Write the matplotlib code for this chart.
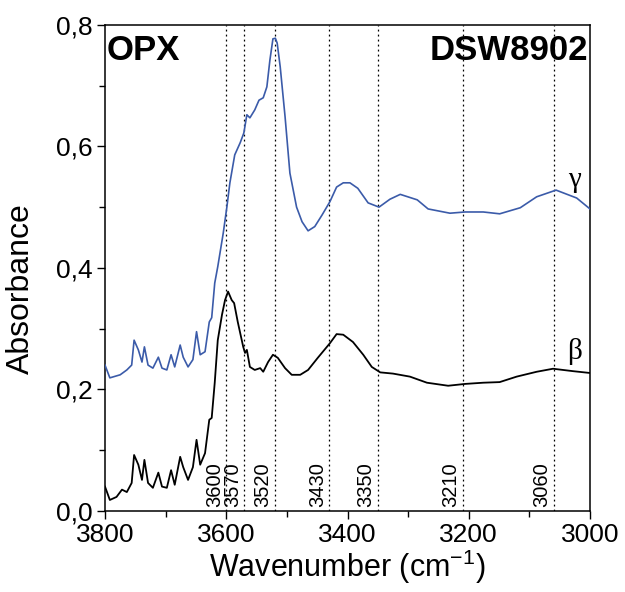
import matplotlib
matplotlib.use('Agg')
import matplotlib.pyplot as plt
from matplotlib.ticker import MultipleLocator

plt.rcParams['font.family'] = ['Liberation Sans', 'DejaVu Sans']

# gamma spectrum (blue)
gamma_x = [3800, 3792, 3775, 3764, 3756, 3752, 3745, 3739, 3735, 3729, 3721, 3712, 3706,
           3698, 3691, 3685, 3676, 3671, 3663, 3655, 3649, 3643, 3635, 3628, 3624, 3619,
           3614, 3605, 3599, 3594, 3586, 3577, 3571, 3566, 3561, 3553, 3546, 3539, 3533,
           3528, 3523, 3519, 3516, 3511, 3503, 3495, 3484, 3475, 3465, 3454, 3442, 3429,
           3418, 3407, 3396, 3383, 3366, 3348, 3330, 3313, 3285, 3267, 3231, 3206, 3176,
           3149, 3115, 3088, 3056, 3022, 3000]
gamma_y = [0.240, 0.219, 0.224, 0.232, 0.240, 0.281, 0.265, 0.245, 0.270, 0.240, 0.235,
           0.253, 0.235, 0.232, 0.257, 0.237, 0.273, 0.253, 0.237, 0.249, 0.295, 0.257,
           0.262, 0.311, 0.318, 0.375, 0.402, 0.457, 0.500, 0.540, 0.586, 0.606, 0.622,
           0.652, 0.647, 0.660, 0.676, 0.680, 0.698, 0.742, 0.777, 0.778, 0.770, 0.731,
           0.649, 0.556, 0.500, 0.476, 0.461, 0.468, 0.487, 0.509, 0.533, 0.540, 0.540,
           0.531, 0.507, 0.500, 0.513, 0.521, 0.512, 0.497, 0.490, 0.492, 0.492, 0.489,
           0.499, 0.517, 0.528, 0.515, 0.497]

# beta spectrum (black)
beta_x = [3800, 3792, 3781, 3772, 3764, 3756, 3752, 3745, 3739, 3735, 3729, 3721, 3712,
          3706, 3698, 3691, 3685, 3676, 3671, 3663, 3655, 3649, 3643, 3635, 3628, 3624,
          3619, 3614, 3607, 3602, 3597, 3591, 3587, 3581, 3572, 3569, 3566, 3561, 3553,
          3544, 3539, 3531, 3523, 3515, 3503, 3492, 3478, 3465, 3449, 3429, 3418, 3407,
          3391, 3374, 3360, 3346, 3325, 3297, 3269, 3234, 3206, 3176, 3149, 3121, 3088,
          3061, 3028, 3000]
beta_y = [0.040, 0.018, 0.023, 0.035, 0.031, 0.046, 0.092, 0.076, 0.051, 0.084, 0.046,
          0.038, 0.063, 0.040, 0.038, 0.067, 0.043, 0.089, 0.072, 0.051, 0.072, 0.117,
          0.076, 0.095, 0.150, 0.153, 0.211, 0.281, 0.323, 0.347, 0.361, 0.347, 0.342,
          0.311, 0.270, 0.260, 0.265, 0.237, 0.232, 0.235, 0.229, 0.245, 0.257, 0.252,
          0.235, 0.224, 0.224, 0.232, 0.252, 0.276, 0.291, 0.290, 0.278, 0.257, 0.237,
          0.228, 0.226, 0.221, 0.211, 0.206, 0.209, 0.211, 0.212, 0.221, 0.229, 0.234,
          0.230, 0.227]

band_positions = [3600, 3570, 3520, 3430, 3350, 3210, 3060]
y_ticks = [0.0, 0.2, 0.4, 0.6, 0.8]
y_tick_labels = ['0,0', '0,2', '0,4', '0,6', '0,8']
x_ticks = [3800, 3600, 3400, 3200, 3000]

fig = plt.figure(figsize=(6.25, 5.92), dpi=100)
ax = fig.add_axes([0.168, 0.137, 0.776, 0.821])

for b in band_positions:
    ax.axvline(b, color='black', linestyle=(0, (1.5, 2.5)), linewidth=0.9, zorder=1)
    ax.text(b + 4, 0.006, str(b), rotation=90, ha='right', va='bottom', fontsize=14.5)

ax.plot(gamma_x, gamma_y, color='#3b5ba9', linewidth=1.2, zorder=3)
ax.plot(beta_x, beta_y, color='black', linewidth=1.3, zorder=3)

ax.text(3025, 0.545, 'γ', fontsize=21, family='Liberation Serif', ha='center', va='center')
ax.text(3025, 0.262, 'β', fontsize=21, family='Liberation Serif', ha='center', va='center')

ax.text(0.003, 0.982, 'OPX', transform=ax.transAxes, fontsize=25, fontweight='bold',
        ha='left', va='top')
ax.text(0.997, 0.982, 'DSW8902', transform=ax.transAxes, fontsize=25, fontweight='bold',
        ha='right', va='top')

ax.set_xlim(3800, 3000)
ax.set_ylim(0, 0.8)
ax.set_xticks(x_ticks)
ax.set_yticks(y_ticks)
ax.set_yticklabels(y_tick_labels)
ax.xaxis.set_minor_locator(MultipleLocator(100))
ax.yaxis.set_minor_locator(MultipleLocator(0.1))
ax.tick_params(which='major', direction='out', length=6, width=1, labelsize=19, pad=3)
ax.tick_params(which='minor', direction='out', length=4, width=1)
for s in ax.spines.values():
    s.set_linewidth(1.1)

ax.set_xlabel('Wavenumber (cm$^{\\mathregular{-1}}$)', fontsize=22, labelpad=0)
ax.set_ylabel('Absorbance', fontsize=23)
ax.yaxis.set_label_coords(-0.142, 0.457)

fig.savefig('out.png', dpi=100)
